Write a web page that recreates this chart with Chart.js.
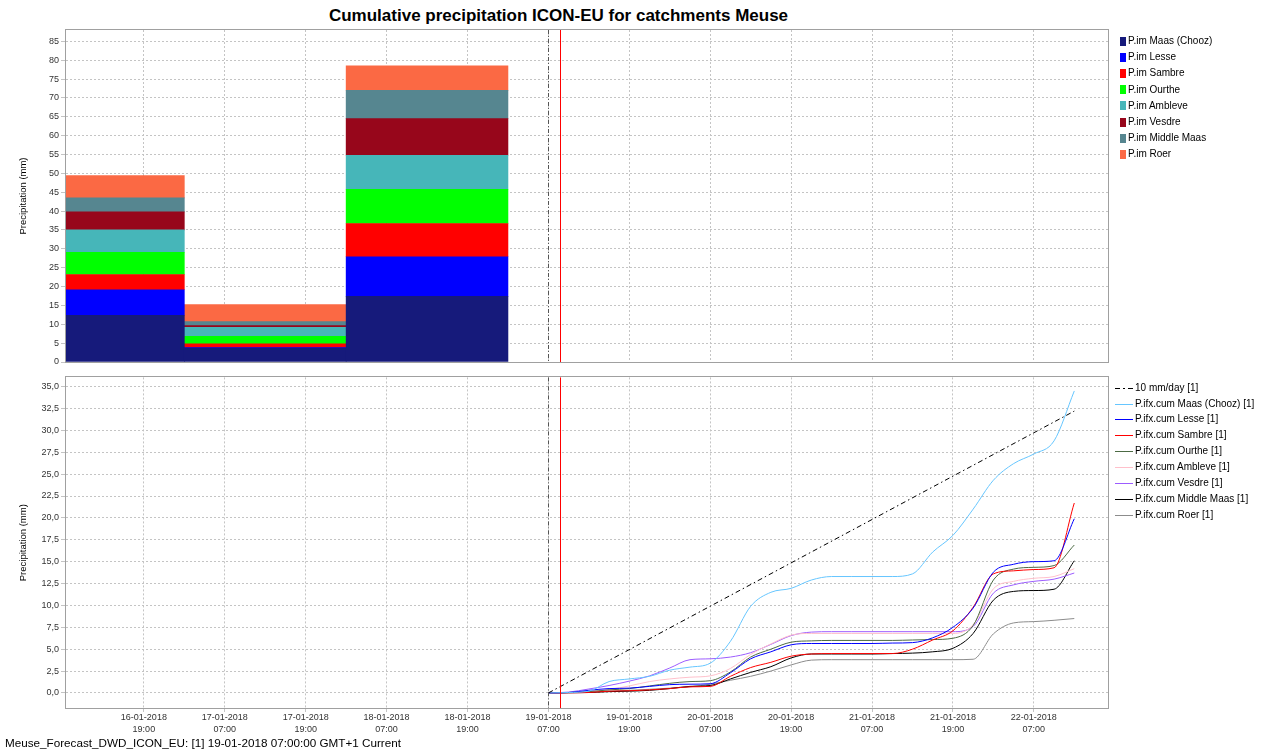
<!DOCTYPE html>
<html>
<head>
<meta charset="utf-8">
<script src="https://cdn.jsdelivr.net/npm/chart.js@4.4.1/dist/chart.umd.min.js"></script>
<style>
html,body{margin:0;padding:0;background:#fff;}
body{width:1269px;height:754px;position:relative;overflow:hidden;font-family:"Liberation Sans",Arial,sans-serif;}
#title{position:absolute;left:0;width:1117px;top:6px;line-height:20px;text-align:center;font-weight:bold;font-size:17px;color:#000;}
#c1{position:absolute;left:0;top:0;}
#c2{position:absolute;left:0;top:370px;}
.lg{position:absolute;font-size:10px;line-height:12px;color:#000;white-space:nowrap;}
.sq{position:absolute;width:6px;height:9px;}
#foot{position:absolute;left:5px;top:736px;font-size:11.7px;line-height:14px;color:#000;white-space:nowrap;}
</style>
</head>
<body>
<div id="title">Cumulative precipitation ICON-EU for catchments Meuse</div>
<canvas id="c1" width="1269" height="370"></canvas>
<canvas id="c2" width="1269" height="384"></canvas>
<div id="legends"></div>
<div id="foot">Meuse_Forecast_DWD_ICON_EU: [1] 19-01-2018 07:00:00 GMT+1 Current</div>
<script>
// ---------- DATA ----------
const catchments = ['Maas (Chooz)','Lesse','Sambre','Ourthe','Ambleve','Vesdre','Middle Maas','Roer'];

// daily bar periods (start times, GMT+1)
const barPeriodStarts = ['16-01-2018 01:00','17-01-2018 01:00','18-01-2018 01:00'];
const imMaas       = [12.4, 3.7, 17.4];
const imLesse      = [6.75, 0.1, 10.5];
const imSambre     = [4.05, 1.0, 8.8];
const imOurthe     = [5.9, 2.0, 9.1];
const imAmbleve    = [5.9, 2.4, 9.0];
const imVesdre     = [4.8, 0.45, 9.7];
const imMiddleMaas = [3.7, 1.05, 7.5];
const imRoer       = [5.9, 4.5, 6.5];

// forecast
const forecastStart = '19-01-2018 07:00';
const currentTime = '19-01-2018 08:42';
const leadHours = [0,3,6,9,12,15,18,21,24,27,30,33,36,39,42,45,48,51,54,57,60,63,66,69,72,75,78];
const cumMaas       = [0,0.05,0.2,1.3,1.6,1.9,2.6,2.95,3.4,5.9,9.9,11.5,11.95,12.9,13.3,13.3,13.3,13.3,13.6,16.1,18.0,21.0,24.3,26.2,27.3,28.8,34.5];
const cumLesse      = [0,0.05,0.3,0.5,0.55,0.75,0.95,1.0,1.05,2.3,3.9,4.7,5.5,5.65,5.65,5.65,5.65,5.7,5.75,6.3,7.5,9.7,13.8,14.7,15.0,15.1,19.9];
const cumSambre     = [0,0.02,0.05,0.2,0.25,0.35,0.5,0.7,0.75,1.9,2.9,3.5,4.2,4.45,4.5,4.5,4.5,4.5,5.0,6.05,7.1,9.8,13.6,13.95,14.1,14.3,21.7];
const cumOurthe     = [0,0.05,0.15,0.35,0.5,0.8,1.1,1.3,1.4,2.4,4.1,5.0,5.8,5.95,6.0,6.0,6.0,6.0,6.05,6.1,6.25,7.7,12.9,14.15,14.35,14.55,16.9];
const cumAmbleve    = [0,0.05,0.15,0.4,0.8,1.3,1.6,1.8,1.95,2.8,4.4,5.6,6.6,6.8,6.8,6.8,6.8,6.8,6.8,6.8,6.8,7.8,11.9,12.75,13.1,13.3,14.2];
const cumVesdre     = [0,0.1,0.45,0.85,1.35,1.95,2.85,3.8,3.9,4.1,4.6,5.55,6.55,6.95,7.0,7.0,7.0,7.0,7.0,7.0,7.0,7.6,11.4,12.35,12.75,13.0,13.7];
const cumMiddleMaas = [0,0.02,0.05,0.15,0.2,0.3,0.5,0.75,0.85,1.6,2.35,3.0,4.0,4.45,4.45,4.45,4.45,4.5,4.55,4.7,5.1,6.8,10.6,11.6,11.7,11.85,15.1];
const cumRoer       = [0,0.05,0.12,0.2,0.3,0.42,0.55,0.7,1.0,1.45,1.9,2.5,3.2,3.75,3.8,3.8,3.8,3.8,3.8,3.8,3.8,3.85,6.75,8.0,8.15,8.3,8.5];
const refLeadHours = [0, 78];
const ref10mmDay   = [0, 32.2];

// axis ticks
const xTickTimes = ['16-01-2018 19:00','17-01-2018 07:00','17-01-2018 19:00','18-01-2018 07:00','18-01-2018 19:00','19-01-2018 07:00',
                    '19-01-2018 19:00','20-01-2018 07:00','20-01-2018 19:00','21-01-2018 07:00','21-01-2018 19:00','22-01-2018 07:00'];
const xAxisStart = '16-01-2018 07:27';
const xAxisEnd   = '22-01-2018 18:00';
const yTopTicks = [0,5,10,15,20,25,30,35,40,45,50,55,60,65,70,75,80,85];
const yBottomTicks = [0,2.5,5,7.5,10,12.5,15,17.5,20,22.5,25,27.5,30,32.5,35];

// ---------- STYLE ----------
const imColors  = ['#161a7b','#0000ff','#ff0000','#00ff00','#46b6b9','#97061b','#568690','#fb6944'];
const cumColors = ['#66c6ff','#0000ff','#ff0000','#4c6a44','#ffc0cb','#9c5cff','#000000','#8c8c8c'];
const FONT = '"Liberation Sans", Arial, sans-serif';
const gridColor = '#c4c4c4';

function toHours(s){
  const [d,t] = s.split(' ');
  const [dd] = d.split('-').map(Number);
  const [h,mi] = t.split(':').map(Number);
  return (dd-16)*24 + h + mi/60;   // hours since 16-01-2018 00:00
}
const xMin = toHours(xAxisStart), xMax = toHours(xAxisEnd);
const xTickValues = xTickTimes.map(toHours);
const tickLabelMap = {};
xTickTimes.forEach(s => { tickLabelMap[toHours(s).toFixed(3)] = s.split(' '); });
const fcStart = toHours(forecastStart);
const nowH = toHours(currentTime);

const imSeries = [imMaas,imLesse,imSambre,imOurthe,imAmbleve,imVesdre,imMiddleMaas,imRoer];
const cumSeries = [cumMaas,cumLesse,cumSambre,cumOurthe,cumAmbleve,cumVesdre,cumMiddleMaas,cumRoer];
const barCenters = barPeriodStarts.map(s => toHours(s) + 12);

const framePlugin = {
  id:'frame',
  afterDatasetsDraw(chart){
    const {ctx, chartArea:a, scales:{x}} = chart;
    ctx.save();
    ctx.lineWidth = 1;
    let px = Math.round(x.getPixelForValue(fcStart)) + 0.5;
    ctx.strokeStyle = '#555'; ctx.setLineDash([4,2,1,2]);
    ctx.beginPath(); ctx.moveTo(px, a.top); ctx.lineTo(px, a.bottom); ctx.stroke();
    px = Math.round(x.getPixelForValue(nowH)) + 0.5;
    ctx.setLineDash([]); ctx.strokeStyle = '#ff0000';
    ctx.beginPath(); ctx.moveTo(px, a.top); ctx.lineTo(px, a.bottom); ctx.stroke();
    ctx.strokeStyle = '#a0a0a0';
    ctx.strokeRect(Math.round(a.left)-0.5, Math.round(a.top)-0.5, Math.round(a.right-a.left)+1, Math.round(a.bottom-a.top)+1);
    ctx.restore();
  }
};

const xCommon = {
  type:'linear', min:xMin, max:xMax, offset:false,
  grid:{offset:false, color:gridColor, tickLength:4},
  border:{display:false, dash:[2,2]},
  afterBuildTicks: s => { s.ticks = xTickValues.map(v => ({value:v})); }
};
function yCommon(min, max, ticks, fmt){
  return {
    min, max,
    afterBuildTicks: s => { s.ticks = ticks.map(v => ({value:v})); },
    afterFit: s => { s.width = 66; },
    grid:{color:gridColor, tickLength:5},
    border:{display:false, dash:[2,2]},
    ticks:{font:{family:FONT,size:9}, color:'#333', padding:2, callback: fmt},
    title:{display:true, text:'Precipitation (mm)', font:{family:FONT,size:9.5}, color:'#000', padding:{top:18,bottom:0}}
  };
}

new Chart(document.getElementById('c1'), {
  type:'bar',
  data:{
    datasets: catchments.map((n,i) => ({
      label:'P.im '+n,
      data: barCenters.map((x,j) => ({x, y: imSeries[i][j]})),
      backgroundColor: imColors[i], borderWidth:0,
      barThickness:'flex', barPercentage:1, categoryPercentage:1
    }))
  },
  options:{
    responsive:false, animation:false, devicePixelRatio:1,
    layout:{padding:{left:0,right:161,top:30,bottom:8}},
    plugins:{legend:{display:false}, tooltip:{enabled:false}},
    scales:{
      x: Object.assign({}, xCommon, {stacked:true, grid:{offset:false,color:gridColor,drawTicks:false}, ticks:{display:false}, afterFit: s => { s.height = 0; }}),
      y: Object.assign(yCommon(0, 88, yTopTicks, v => String(v)), {stacked:true})
    }
  },
  plugins:[framePlugin]
});

const lineLabels = ['10 mm/day [1]'].concat(catchments.map(n => 'P.ifx.cum '+n+' [1]'));
const lineDatasets = [{
  label: lineLabels[0],
  data: refLeadHours.map((h,i) => ({x: fcStart + h, y: ref10mmDay[i]})),
  borderColor:'#000', borderWidth:1, borderDash:[5,3,1.5,3], pointRadius:0, fill:false
}].concat(catchments.map((n,i) => ({
  label: lineLabels[i+1],
  data: leadHours.map((h,j) => ({x: fcStart + h, y: cumSeries[i][j]})),
  borderColor: cumColors[i], borderWidth:1, pointRadius:0, fill:false,
  cubicInterpolationMode:'monotone'
})));

new Chart(document.getElementById('c2'), {
  type:'line',
  data:{datasets: lineDatasets},
  options:{
    responsive:false, animation:false, devicePixelRatio:1,
    layout:{padding:{left:0,right:161,top:7,bottom:0}},
    plugins:{legend:{display:false}, tooltip:{enabled:false}},
    scales:{
      x: Object.assign({}, xCommon, {
        afterFit: s => { s.height = 46; },
        ticks:{font:{family:FONT,size:9,lineHeight:1.3}, color:'#333', padding:0, maxRotation:0, autoSkip:false,
               callback: v => tickLabelMap[Number(v).toFixed(3)] || ''}
      }),
      y: yCommon(-1.72, 36.05, yBottomTicks, v => Number(v).toFixed(1).replace('.', ','))
    }
  },
  plugins:[framePlugin]
});

// ---------- LEGENDS (HTML) ----------
const L = document.getElementById('legends');
catchments.forEach((n,i) => {
  const cy = 41 + i*16.2;
  const sq = document.createElement('div'); sq.className='sq';
  sq.style.left='1120px'; sq.style.top=(cy-4.5)+'px'; sq.style.background=imColors[i];
  const t = document.createElement('div'); t.className='lg';
  t.style.left='1128px'; t.style.top=(cy-6)+'px'; t.textContent='P.im '+n;
  L.appendChild(sq); L.appendChild(t);
});
lineLabels.forEach((label,i) => {
  const cy = Math.round(387.7 + i*15.85);
  const color = i === 0 ? '#000' : cumColors[i-1];
  const dash = i === 0 ? ' stroke-dasharray="5,3,1.5,3"' : '';
  const s = document.createElementNS('http://www.w3.org/2000/svg','svg');
  s.setAttribute('width','18'); s.setAttribute('height','2');
  s.style.position='absolute'; s.style.left='1115px'; s.style.top=(cy-1)+'px';
  s.innerHTML = '<line x1="0" y1="1.5" x2="18" y2="1.5" stroke="'+color+'" stroke-width="1"'+dash+' shape-rendering="crispEdges"/>';
  L.appendChild(s);
  const t = document.createElement('div'); t.className='lg';
  t.style.left='1135px'; t.style.top=(cy-6)+'px'; t.textContent=label;
  L.appendChild(t);
});
</script>
</body>
</html>
